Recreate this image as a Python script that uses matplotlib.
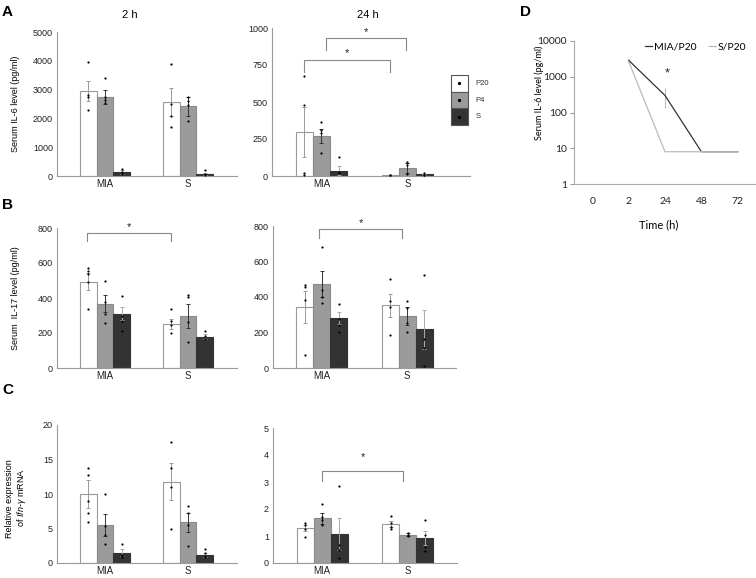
import numpy as np
import matplotlib
matplotlib.use('Agg')
import matplotlib.pyplot as plt
from matplotlib.patches import Rectangle
from matplotlib.lines import Line2D
from matplotlib.ticker import NullLocator

plt.rcParams['font.family'] = ['Liberation Sans', 'DejaVu Sans']
plt.rcParams['mathtext.fontset'] = 'custom'
plt.rcParams['mathtext.it'] = 'Liberation Sans:italic'
plt.rcParams['mathtext.rm'] = 'Liberation Sans'

# ---------------- data ----------------
groups = ['MIA', 'S']
series = ['P20', 'P4', 'S']

# Panel A, 2 h (rows: P20, P4, S; cols: MIA, S)
a2_mean = [[2950, 2570], [2750, 2420], [140, 70]]
a2_err = [[340, 500], [250, 320], [60, 40]]
a2_pts = [[[3950, 2800, 2750, 2300], [3900, 2500, 2100, 1700]],
          [[3400, 2750, 2650, 2550], [2750, 2600, 2450, 1900]],
          [[230, 150, 100, 80], [200, 80, 50]]]

# Panel A, 24 h
a24_mean = [[296, 7], [271, 52], [36, 11]]
a24_err = [[170, 3], [45, 35], [30, 5]]
a24_pts = [[[673, 481, 18, 7], [8, 5]],
           [[365, 310, 290, 155], [97, 75, 14]],
           [[126, 30, 18], [18, 10, 5]]]

# Panel B, 2 h
b2_mean = [[493, 252], [368, 297], [310, 178]]
b2_err = [[50, 28], [50, 68], [38, 15]]
b2_pts = [[[570, 555, 540, 490, 340], [335, 270, 245, 200]],
          [[495, 375, 310, 260], [420, 405, 265, 150]],
          [[410, 300, 270, 210], [210, 185, 165]]]

# Panel B, 24 h
b24_mean = [[345, 353], [473, 295], [283, 217]]
b24_err = [[90, 65], [72, 50], [33, 110]]
b24_pts = [[[465, 455, 385, 75], [500, 380, 345, 185]],
           [[680, 440, 400, 365], [380, 340, 255, 205]],
           [[360, 275, 240, 205], [525, 165, 110, 10]]]

# Panel C, 2 h
c2_mean = [[10.0, 11.8], [5.5, 5.9], [1.5, 1.1]]
c2_err = [[2.0, 2.7], [1.6, 1.4], [0.5, 0.3]]
c2_pts = [[[13.8, 12.8, 9.0, 7.3, 6.0], [17.5, 13.8, 11.0, 5.0]],
          [[10.0, 5.3, 4.0, 2.7], [8.3, 7.2, 5.5, 2.5]],
          [[2.8, 1.2, 1.0, 0.8], [2.0, 1.4, 1.0, 0.8]]]

# Panel C, 24 h
c24_mean = [[1.3, 1.45], [1.65, 1.05], [1.08, 0.92]]
c24_err = [[0.12, 0.1], [0.2, 0.05], [0.6, 0.25]]
c24_pts = [[[1.5, 1.4, 1.25, 0.95], [1.75, 1.5, 1.35, 1.25]],
           [[2.2, 1.7, 1.6, 1.4], [1.1, 1.05, 1.0]],
           [[2.85, 0.65, 0.5, 0.2], [1.6, 1.05, 0.6, 0.45]]]

# Panel D
d_times = ['0', '2', '24', '48', '72']
d_mia = [np.nan, 2900, 300, 8, 8]
d_mia_lo = [0, 300, 170, 0, 0]
d_mia_hi = [0, 300, 175, 0, 0]
d_s = [np.nan, 2700, 8, 8, 8]
d_s_err = [0, 250, 0, 0, 0]

# ---------------- layout ----------------
W, H = 756, 578
fig = plt.figure(figsize=(W / 100, H / 100), dpi=100)


def box(x0, y0, x1, y1):
    return [x0 / W, 1 - y1 / H, (x1 - x0) / W, (y1 - y0) / H]


face = ['white', '#9b9b9b', '#333333']
edge = ['#999999', '#8a8a8a', '#333333']
ecol = ['#999999', '#333333', '#aaaaaa']
offs = [-0.2, 0.0, 0.2]
bw = 0.2
SP = '#9a9a9a'


def bar_panel(rect, mean, err, pts, ylim, yticks, xlim):
    ax = fig.add_axes(box(*rect))
    x = np.arange(len(groups))
    for i in range(3):
        ax.bar(x + offs[i], mean[i], width=bw, color=face[i], edgecolor=edge[i],
               linewidth=0.8, zorder=2)
        ax.errorbar(x + offs[i], mean[i], yerr=err[i], fmt='none', ecolor=ecol[i],
                    elinewidth=0.7, capsize=1.5, capthick=0.7, zorder=3)
        for g in range(len(groups)):
            p = pts[i][g]
            ax.plot(np.full(len(p), x[g] + offs[i]), p, 'o', color='black',
                    ms=1.6, mew=0, zorder=4)
    ax.set_ylim(*ylim)
    ax.set_xlim(*xlim)
    ax.set_yticks(yticks)
    ax.set_xticks(x)
    ax.set_xticklabels(groups, fontsize=7)
    ax.tick_params(axis='y', length=0, pad=3, labelsize=6.5, labelcolor='#222222')
    ax.tick_params(axis='x', length=0, pad=2.5, labelcolor='#222222')
    for s in ['top', 'right']:
        ax.spines[s].set_visible(False)
    for s in ['left', 'bottom']:
        ax.spines[s].set_color(SP)
        ax.spines[s].set_linewidth(0.8)
    return ax


def bracket(ax, x0, x1, ytop, ybot, ystar):
    ax.plot([x0, x0, x1, x1], [ybot, ytop, ytop, ybot], color='#888888', lw=0.8,
            clip_on=False, zorder=5)
    ax.text((x0 + x1) / 2, ystar, '*', ha='center', va='center', fontsize=8,
            color='#222222')


xl_left = (-0.578, 1.59)
xl_right = (-0.576, 1.576)

axA1 = bar_panel((57, 32, 237, 176), a2_mean, a2_err, a2_pts, (0, 5000),
                 [0, 1000, 2000, 3000, 4000, 5000], xl_left)
axA2 = bar_panel((272, 28, 470, 176), a24_mean, a24_err, a24_pts, (0, 1000),
                 [0, 250, 500, 750, 1000], (-0.576, 1.73))
axB1 = bar_panel((57, 228, 237, 368), b2_mean, b2_err, b2_pts, (0, 800),
                 [0, 200, 400, 600, 800], xl_left)
axB2 = bar_panel((273, 226, 456, 368), b24_mean, b24_err, b24_pts, (0, 800),
                 [0, 200, 400, 600, 800], xl_right)
axC1 = bar_panel((57, 425, 237, 563), c2_mean, c2_err, c2_pts, (0, 20),
                 [0, 5, 10, 15, 20], xl_left)
axC2 = bar_panel((273, 428, 457, 563), c24_mean, c24_err, c24_pts, (0, 5),
                 [0, 1, 2, 3, 4, 5], xl_right)

fig.text(130 / W, 1 - 15 / H, '2 h', fontsize=8, ha='center', va='center')
fig.text(368 / W, 1 - 15 / H, '24 h', fontsize=8, ha='center', va='center')

axA1.set_ylabel('Serum IL-6 level (pg/ml)', fontsize=6.5)
axA1.yaxis.set_label_coords(-0.205, 0.5)
axB1.set_ylabel('Serum  IL-17 level (pg/ml)', fontsize=6.5)
axB1.yaxis.set_label_coords(-0.205, 0.5)
axC1.set_ylabel('Relative expression\nof $\\mathit{Ifn}$-$\\mathit{\\gamma}$ mRNA',
                fontsize=6.5, linespacing=1.1)
axC1.yaxis.set_label_coords(-0.16, 0.47)

# significance brackets
bracket(axA2, 0.05, 0.98, 934, 853, 975)
bracket(axA2, -0.2, 0.8, 785, 704, 833)
bracket(axB1, -0.22, 0.8, 771, 726, 805)
bracket(axB2, -0.03, 0.94, 781, 730, 815)
bracket(axC2, 0.0, 0.95, 3.4, 3.03, 3.93)

# legend for bars (boxes with a dot)
lax = fig.add_axes(box(451, 75, 468, 125))
lax.set_xlim(0, 1)
lax.set_ylim(0, 3)
lax.axis('off')
for i in range(3):
    lax.add_patch(Rectangle((0, 2 - i), 1, 1, facecolor=face[i], edgecolor='#555555',
                            linewidth=0.8, clip_on=False))
    lax.plot(0.5, 2.5 - i, 'o', color='black', ms=2.4, mew=0)
    lax.text(1.45, 2.5 - i, series[i], ha='left', va='center', fontsize=5.5,
             color='#333333')

# Panel D
axD = fig.add_axes(box(574, 41, 756, 184))
xd = np.arange(len(d_times))
axD.errorbar(xd, d_mia, yerr=[d_mia_lo, d_mia_hi], color='#333333', lw=0.9,
             ecolor='#bbbbbb', elinewidth=0.8, capsize=0, label='MIA/P20')
axD.errorbar(xd, d_s, yerr=d_s_err, color='#bbbbbb', lw=0.9,
             ecolor='#bbbbbb', elinewidth=0.8, capsize=0, label='S/P20')
axD.set_yscale('log')
axD.set_ylim(1, 10000)
axD.set_xlim(-0.5, len(d_times) - 0.5)
axD.set_yticks([1, 10, 100, 1000, 10000])
axD.set_yticklabels(['1', '10', '100', '1000', '10000'])
axD.yaxis.set_minor_locator(NullLocator())
axD.set_xticks(xd)
axD.set_xticklabels(d_times)
for lab in axD.get_xticklabels() + axD.get_yticklabels():
    lab.set_family('Lato')
    lab.set_fontsize(7.5)
    lab.set_color('#222222')
axD.tick_params(axis='x', length=0, pad=9)
axD.tick_params(axis='y', length=3, color='#999999', width=0.8, pad=2)
for s in ['top', 'right']:
    axD.spines[s].set_visible(False)
for s in ['left', 'bottom']:
    axD.spines[s].set_color('#aaaaaa')
    axD.spines[s].set_linewidth(0.8)
axD.set_ylabel('Serum IL-6 level (pg/ml)', family='Lato', fontsize=6.5)
axD.yaxis.set_label_coords(-0.165, 0.64)
axD.set_xlabel('Time (h)', family='Lato', fontsize=8)
axD.xaxis.set_label_coords(0.467, -0.25)
axD.text(2.05, 1250, '*', ha='center', va='center', fontsize=9, color='#222222')
leg_handles = [Line2D([], [], color='#333333', lw=0.9), Line2D([], [], color='#bbbbbb', lw=0.9)]
fig.legend(leg_handles, ['MIA/P20', 'S/P20'], loc='center right',
           bbox_to_anchor=(746 / W, 1 - 47 / H), ncol=2, frameon=False,
           prop={'family': 'Lato', 'size': 7.5}, handlelength=0.7, handletextpad=0.15,
           columnspacing=1.2, borderpad=0, borderaxespad=0)

# panel letters
for letter, (px, py) in zip('ABCD', [(2, 12), (2, 205), (2, 390), (520, 12)]):
    fig.text(px / W, 1 - py / H, letter, fontsize=11, fontweight='bold',
             ha='left', va='center')

fig.savefig('out.png', dpi=100)
